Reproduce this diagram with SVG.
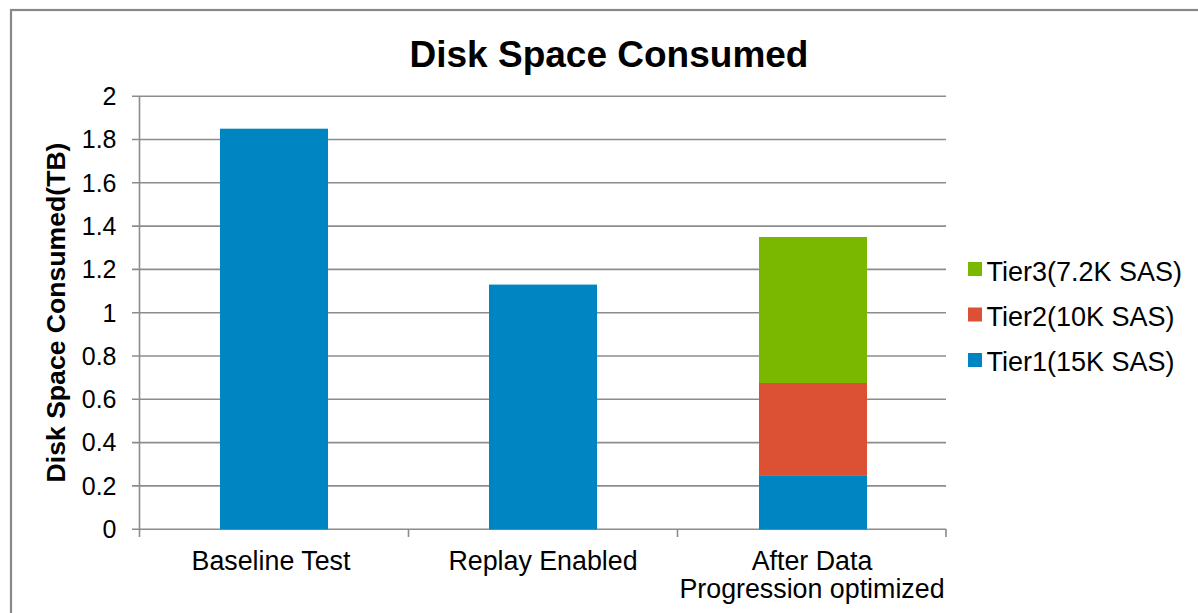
<svg xmlns="http://www.w3.org/2000/svg" width="1198" height="613" viewBox="0 0 1198 613">
<style>
text{font-family:"Liberation Sans",Arial,sans-serif;fill:#000}
.tick{font-size:25px;text-anchor:end}
.cat{font-size:26.8px;text-anchor:middle}
.leg{font-size:27px}
.grid{stroke:#8c8c8c;stroke-width:1.6;fill:none}
.t1{fill:#0085c3}.t2{fill:#dc5034}.t3{fill:#7ab800}
</style>
<rect x="11" y="10" width="1200" height="620" fill="#fff" stroke="#888" stroke-width="2.2"/>
<g id="title"><text x="609" y="67" font-size="37" font-weight="bold" text-anchor="middle">Disk Space Consumed</text></g>
<g id="axes">
<path class="grid" d="M132 96.2H946M132 139.5H946M132 182.8H946M132 226.1H946M132 269.4H946M132 312.7H946M132 356H946M132 399.3H946M132 442.6H946M132 485.9H946M132 529.3H946"/>
<path class="grid" d="M139.5 96.2V537M408.5 529V537M677.5 529V537M946 529V537"/>
<text class="tick" x="116.5" y="105">2</text>
<text class="tick" x="116.5" y="148.3">1.8</text>
<text class="tick" x="116.5" y="191.6">1.6</text>
<text class="tick" x="116.5" y="234.9">1.4</text>
<text class="tick" x="116.5" y="278.2">1.2</text>
<text class="tick" x="116.5" y="321.5">1</text>
<text class="tick" x="116.5" y="364.8">0.8</text>
<text class="tick" x="116.5" y="408.1">0.6</text>
<text class="tick" x="116.5" y="451.4">0.4</text>
<text class="tick" x="116.5" y="494.7">0.2</text>
<text class="tick" x="116.5" y="538.1">0</text>
<text x="65" y="312.5" font-size="26.6" font-weight="bold" text-anchor="middle" transform="rotate(-90 65 312.5)">Disk Space Consumed(TB)</text>
<text class="cat" x="271" y="569.5">Baseline Test</text>
<text class="cat" x="543" y="569.5">Replay Enabled</text>
<text class="cat" x="812" y="569.5">After Data</text>
<text class="cat" x="812" y="597.5">Progression optimized</text>
</g>
<g id="bar-baseline"><rect class="t1" x="220" y="128.7" width="108" height="400.6"/></g>
<g id="bar-replay"><rect class="t1" x="489" y="284.6" width="108" height="244.7"/></g>
<g id="bar-after">
<rect class="t1" x="759" y="475.2" width="108" height="54.1"/>
<rect class="t2" x="759" y="383" width="108" height="92.2"/>
<rect class="t3" x="759" y="237" width="108" height="146"/>
</g>
<g id="legend">
<rect class="t3" x="968" y="262" width="14" height="14"/>
<text class="leg" x="986.5" y="281">Tier3(7.2K SAS)</text>
<rect class="t2" x="968" y="307.5" width="14" height="14"/>
<text class="leg" x="986.5" y="326">Tier2(10K SAS)</text>
<rect class="t1" x="968" y="353" width="14" height="14"/>
<text class="leg" x="986.5" y="371">Tier1(15K SAS)</text>
</g>
</svg>
